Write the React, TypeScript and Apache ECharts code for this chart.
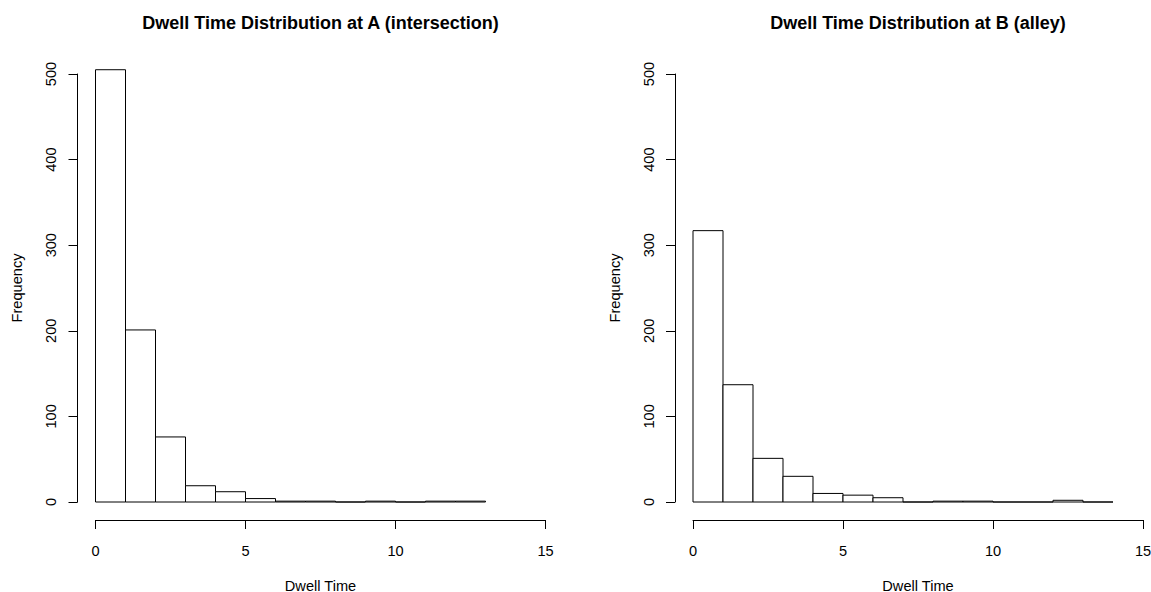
import React, { useEffect, useRef } from "react";
import * as echarts from "echarts";

const titleA = "Dwell Time Distribution at A (intersection)";
const titleB = "Dwell Time Distribution at B (alley)";
const xName = "Dwell Time";
const yName = "Frequency";

// histogram bins (width 1, starting at 0)
const binStartsA = [0, 1, 2, 3, 4, 5, 6, 7, 8, 9, 10, 11, 12];
const countsA = [505, 201, 76, 19, 12, 4, 1, 1, 0, 1, 0, 1, 1];
const binStartsB = [0, 1, 2, 3, 4, 5, 6, 7, 8, 9, 10, 11, 12, 13];
const countsB = [317, 137, 51, 30, 10, 8, 5, 0, 1, 1, 0, 0, 2, 0];
const binWidth = 1;

const xTicks = [0, 5, 10, 15];
const yTicks = [0, 100, 200, 300, 400, 500];

const FONT = "'Liberation Sans', Arial, Helvetica, sans-serif";
const FS = 14.6;
const TFS = 18;

function histData(starts: number[], counts: number[]) {
  return starts.map((s, i) => [s, s + binWidth, counts[i]]);
}

function renderBar(params: any, api: any) {
  const x0 = api.value(0);
  const x1 = api.value(1);
  const y = api.value(2);
  const p0 = api.coord([x0, y]);
  const p1 = api.coord([x1, 0]);
  return {
    type: "rect",
    shape: { x: p0[0], y: p0[1], width: p1[0] - p0[0], height: p1[1] - p0[1] },
    style: { fill: "#ffffff", stroke: "#000000", lineWidth: 1 },
  };
}

export default function App() {
  const ref = useRef<HTMLDivElement>(null);
  useEffect(() => {
    if (!ref.current) return;
    const chart = echarts.init(ref.current, undefined, { renderer: "svg" });
    const xStep = xTicks[1] - xTicks[0];
    const yStep = yTicks[1] - yTicks[0];
    const mkX = (gi: number) => ({
      type: "value",
      gridIndex: gi,
      min: xTicks[0],
      max: xTicks[xTicks.length - 1],
      interval: xStep,
      offset: 18,
      name: xName,
      nameLocation: "middle",
      nameGap: 58,
      nameTextStyle: { color: "#000", fontSize: FS, fontFamily: FONT },
      axisLine: { show: true, onZero: false, lineStyle: { color: "#000", width: 1 } },
      axisTick: { show: true, length: 9, lineStyle: { color: "#000", width: 1 } },
      axisLabel: { color: "#000", fontSize: FS, fontFamily: FONT, margin: 23 },
      splitLine: { show: false },
    });
    const mkY = (gi: number) => ({
      type: "value",
      gridIndex: gi,
      min: yTicks[0],
      max: yTicks[yTicks.length - 1],
      interval: yStep,
      offset: 18,
      name: yName,
      nameLocation: "middle",
      nameRotate: 90,
      nameGap: 53,
      nameTextStyle: { color: "#000", fontSize: FS, fontFamily: FONT },
      axisLine: { show: true, onZero: false, lineStyle: { color: "#000", width: 1 } },
      axisTick: { show: true, length: 9, lineStyle: { color: "#000", width: 1 } },
      axisLabel: { color: "#000", fontSize: FS, fontFamily: FONT, rotate: 90, margin: 19 },
      splitLine: { show: false },
    });
    const titleStyle = (text: string) => ({
      text,
      fill: "#000",
      font: `bold ${TFS}px ${FONT}`,
      fontSize: TFS,
      fontWeight: "bold",
      fontFamily: FONT,
      align: "center",
      verticalAlign: "middle",
      textAlign: "center",
      textVerticalAlign: "middle",
    });
    chart.setOption({
      animation: false,
      backgroundColor: "#ffffff",
      textStyle: { fontFamily: FONT },
      grid: [
        { left: 95.5, top: 74, width: 450, height: 428, containLabel: false, outerBoundsMode: "none" },
        { left: 693, top: 74, width: 450, height: 428, containLabel: false, outerBoundsMode: "none" },
      ],
      xAxis: [mkX(0), mkX(1)],
      yAxis: [mkY(0), mkY(1)],
      graphic: [
        { type: "text", x: 320.5, y: 23, style: titleStyle(titleA) },
        { type: "text", x: 918, y: 23, style: titleStyle(titleB) },
      ],
      series: [
        {
          type: "custom",
          xAxisIndex: 0,
          yAxisIndex: 0,
          clip: false,
          encode: { x: [0, 1], y: 2 },
          renderItem: renderBar,
          data: histData(binStartsA, countsA),
        },
        {
          type: "custom",
          xAxisIndex: 1,
          yAxisIndex: 1,
          clip: false,
          encode: { x: [0, 1], y: 2 },
          renderItem: renderBar,
          data: histData(binStartsB, countsB),
        },
      ],
    });
    return () => chart.dispose();
  }, []);
  return (
    <div
      ref={ref}
      style={{ position: "fixed", left: 0, top: 0, width: 1151, height: 592, background: "#fff" }}
    />
  );
}
